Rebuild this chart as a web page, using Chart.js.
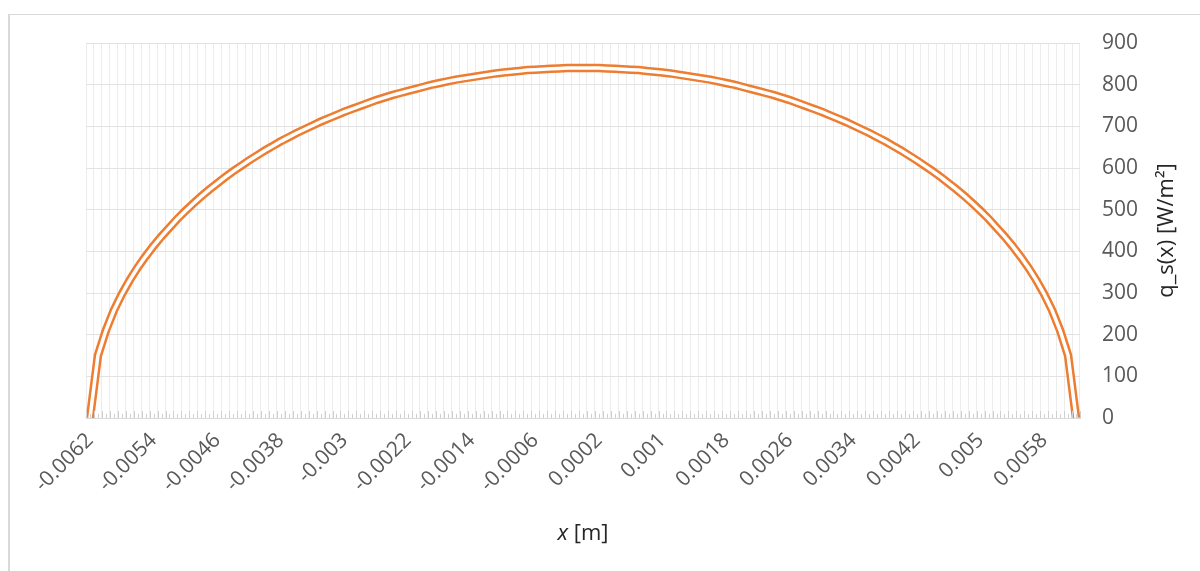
<!DOCTYPE html>
<html>
<head>
<meta charset="utf-8">
<script src="https://cdn.jsdelivr.net/npm/chart.js@4"></script>
<style>
  html, body { margin: 0; padding: 0; background: #fff; }
  #frame { position: absolute; left: 8px; top: 14px; width: 1192px; height: 557px;
           border-left: 2px solid #d9d9d9; border-top: 1px solid #d9d9d9; box-sizing: border-box; }
  #wrap { position: absolute; left: 0; top: 0; width: 1200px; height: 571px; }
</style>
</head>
<body>
<div id="frame"></div>
<div id="wrap"><canvas id="heatFluxChart"></canvas></div>
<script>
// x positions [m]
const xValues = [
  -0.0062, -0.0061, -0.006, -0.0059, -0.0058, -0.0057, -0.0056, -0.0055, -0.0054, -0.0053,
  -0.0052, -0.0051, -0.005, -0.0049, -0.0048, -0.0047, -0.0046, -0.0045, -0.0044, -0.0043,
  -0.0042, -0.0041, -0.004, -0.0039, -0.0038, -0.0037, -0.0036, -0.0035, -0.0034, -0.0033,
  -0.0032, -0.0031, -0.003, -0.0029, -0.0028, -0.0027, -0.0026, -0.0025, -0.0024, -0.0023,
  -0.0022, -0.0021, -0.002, -0.0019, -0.0018, -0.0017, -0.0016, -0.0015, -0.0014, -0.0013,
  -0.0012, -0.0011, -0.001, -0.0009, -0.0008, -0.0007, -0.0006, -0.0005, -0.0004, -0.0003,
  -0.0002, -0.0001, 0, 0.0001, 0.0002, 0.0003, 0.0004, 0.0005, 0.0006, 0.0007,
  0.0008, 0.0009, 0.001, 0.0011, 0.0012, 0.0013, 0.0014, 0.0015, 0.0016, 0.0017,
  0.0018, 0.0019, 0.002, 0.0021, 0.0022, 0.0023, 0.0024, 0.0025, 0.0026, 0.0027,
  0.0028, 0.0029, 0.003, 0.0031, 0.0032, 0.0033, 0.0034, 0.0035, 0.0036, 0.0037,
  0.0038, 0.0039, 0.004, 0.0041, 0.0042, 0.0043, 0.0044, 0.0045, 0.0046, 0.0047,
  0.0048, 0.0049, 0.005, 0.0051, 0.0052, 0.0053, 0.0054, 0.0055, 0.0056, 0.0057,
  0.0058, 0.0059, 0.006, 0.0061, 0.0062
]

// q_s(x) [W/m2]
const qValues = [
  0, 150, 210, 258, 297, 331, 361, 388, 413, 436,
  457, 478, 497, 515, 532, 548, 563, 578, 592, 605,
  618, 630, 642, 653, 664, 674, 684, 693, 702, 711,
  719, 727, 735, 742, 749, 756, 763, 769, 775, 780,
  785, 790, 795, 800, 804, 808, 812, 815, 818, 821,
  824, 827, 829, 831, 833, 835, 836, 837, 838, 839,
  840, 840, 840, 840, 840, 839, 838, 837, 836, 835,
  833, 831, 829, 827, 824, 821, 818, 815, 812, 808,
  804, 800, 795, 790, 785, 780, 775, 769, 763, 756,
  749, 742, 735, 727, 719, 711, 702, 693, 684, 674,
  664, 653, 642, 630, 618, 605, 592, 578, 563, 548,
  532, 515, 497, 478, 457, 436, 413, 388, 361, 331,
  297, 258, 210, 150, 0
]

// labels shown on the x axis
const xTickLabels = [
  "-0.0062", "-0.0054", "-0.0046", "-0.0038", "-0.003", "-0.0022", "-0.0014", "-0.0006",
  "0.0002", "0.001", "0.0018", "0.0026", "0.0034", "0.0042", "0.005", "0.0058"
]

const yTicks = [0, 100, 200, 300, 400, 500, 600, 700, 800, 900]

const categories = xValues.map((v) => String(v))
const orange = "#ED7D31"
const fontFamily = "'Open Sans', sans-serif"

// little tick marks on the bottom axis + the two axis titles
const excelExtras = {
  id: "excelExtras",
  afterDraw(chart) {
    const { ctx, chartArea, scales } = chart
    const xs = scales.x
    const step = xs.getPixelForValue(1) - xs.getPixelForValue(0)
    ctx.save()
    ctx.strokeStyle = "#d0d0d0"
    ctx.lineWidth = 1
    for (let i = 0; i <= categories.length; i++) {
      const xb = Math.round(xs.getPixelForValue(i) - step / 2) + 0.5
      ctx.beginPath()
      ctx.moveTo(xb, chartArea.bottom)
      ctx.lineTo(xb, chartArea.bottom - 7)
      ctx.stroke()
      if (i < categories.length) {
        const xc = Math.round(xs.getPixelForValue(i)) + 0.5
        ctx.beginPath()
        ctx.moveTo(xc, chartArea.bottom)
        ctx.lineTo(xc, chartArea.bottom - 4)
        ctx.stroke()
      }
    }

    // x title: italic x + " [m]"
    ctx.fillStyle = "#262626"
    ctx.textBaseline = "middle"
    const cx = (chartArea.left + chartArea.right) / 2
    const italicFont = "italic 22px " + fontFamily
    const normalFont = "22px " + fontFamily
    ctx.font = italicFont
    const w1 = ctx.measureText("x").width
    ctx.font = normalFont
    const w2 = ctx.measureText(" [m]").width
    const startX = cx - (w1 + w2) / 2
    ctx.textAlign = "left"
    ctx.font = italicFont
    ctx.fillText("x", startX, 534)
    ctx.font = normalFont
    ctx.fillText(" [m]", startX + w1, 534)

    // y title, reading bottom to top
    ctx.translate(1167, (chartArea.top + chartArea.bottom) / 2)
    ctx.rotate(-Math.PI / 2)
    ctx.textAlign = "center"
    ctx.fillText("q_s(x) [W/m²]", 0, 0)
    ctx.restore()
  },
}

const ctx = document.getElementById("heatFluxChart")
new Chart(ctx, {
  type: "line",
  data: {
    labels: categories,
    datasets: [
      {
        label: "inner",
        data: qValues,
        borderColor: "#ffffff",
        borderWidth: 3.5,
        pointRadius: 0,
        tension: 0,
        order: 0,
      },
      {
        label: "q_s(x)",
        data: qValues,
        borderColor: orange,
        borderWidth: 8.5,
        pointRadius: 0,
        tension: 0,
        order: 1,
      },
    ],
  },
  options: {
    responsive: true,
    maintainAspectRatio: false,
    animation: false,
    layout: { padding: { left: 86, top: 43, right: 0, bottom: 0 } },
    plugins: {
      legend: { display: false },
      tooltip: { enabled: false },
    },
    scales: {
      x: {
        type: "category",
        offset: true,
        grid: { offset: true, color: "#ececec", drawTicks: false },
        border: { color: "#d9d9d9" },
        ticks: {
          autoSkip: false,
          maxRotation: 45,
          minRotation: 45,
          padding: 10,
          color: "#595959",
          font: { family: fontFamily, size: 21 },
          callback: function (value) {
            const lab = this.getLabelForValue(value)
            return xTickLabels.includes(lab) ? lab : ""
          },
        },
        afterFit: (scale) => {
          scale.height = 153
          scale.paddingLeft = 0
          scale.paddingRight = 0
        },
      },
      y: {
        position: "right",
        min: yTicks[0],
        max: yTicks[yTicks.length - 1],
        grid: { color: "#e2e2e2", drawTicks: false },
        border: { display: false },
        afterBuildTicks: (scale) => {
          scale.ticks = yTicks.map((v) => ({ value: v }))
        },
        ticks: {
          padding: 22,
          color: "#595959",
          font: { family: fontFamily, size: 21 },
        },
        afterFit: (scale) => {
          scale.width = 120
        },
      },
    },
  },
  plugins: [excelExtras],
})
</script>
</body>
</html>
